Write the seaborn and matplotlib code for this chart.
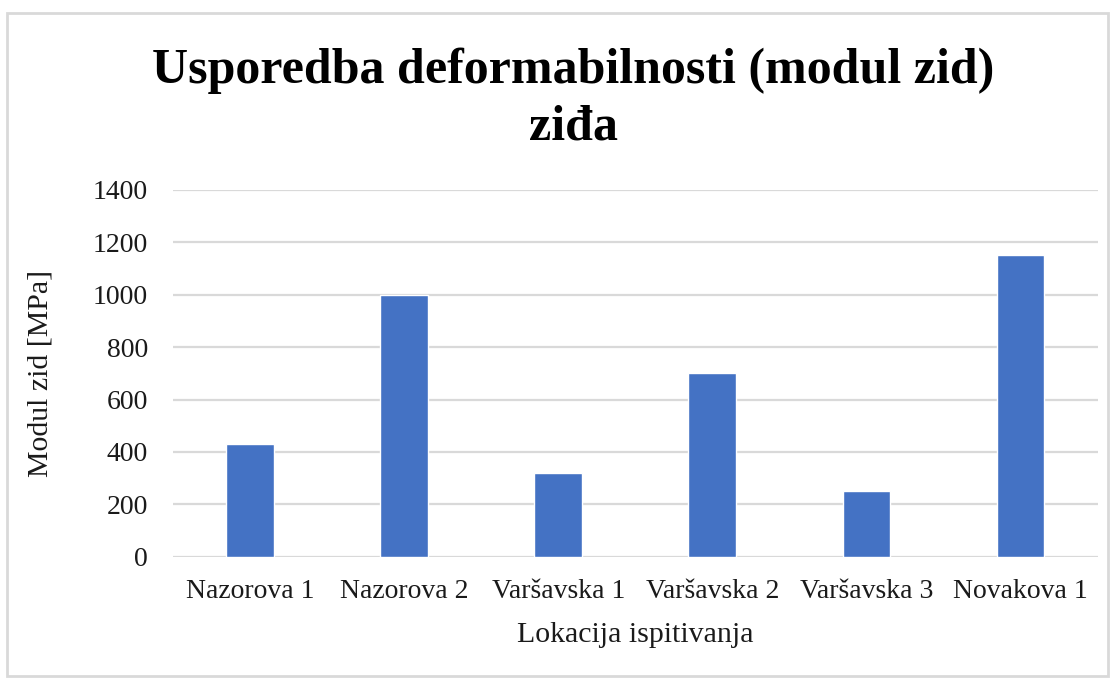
import matplotlib
matplotlib.use("Agg")
import matplotlib.pyplot as plt
import seaborn as sns
import pandas as pd
from matplotlib.patches import Rectangle

locations = ["Nazorova 1", "Nazorova 2", "Varšavska 1", "Varšavska 2", "Varšavska 3", "Novakova 1"]
modulus = [430, 1000, 320, 700, 250, 1152]
y_ticks = [0, 200, 400, 600, 800, 1000, 1200, 1400]

df = pd.DataFrame({"Lokacija": locations, "Modul": modulus})

sns.set_theme(style="white")
plt.rcParams["font.family"] = ["Liberation Serif", "DejaVu Serif"]

fig = plt.figure(figsize=(11.2, 6.81), dpi=100)
ax = fig.add_axes([0.1545, 0.1825, 0.8255, 0.5385])

sns.barplot(data=df, x="Lokacija", y="Modul", color="#4472C4", width=0.31,
            saturation=1, ax=ax, zorder=3)

ax.set_ylim(0, 1400)
ax.set_yticks(y_ticks)
ax.set_xlim(-0.5, len(locations) - 0.5)
ax.yaxis.grid(True, color="#D9D9D9", linewidth=1.6, zorder=0)
ax.xaxis.grid(False)
for s in ax.spines.values():
    s.set_visible(False)
ax.tick_params(axis="both", length=0, labelsize=20, colors="#1a1a1a")
ax.tick_params(axis="y", pad=18)
ax.tick_params(axis="x", pad=16)

ax.set_xlabel("Lokacija ispitivanja", fontsize=21.5, color="#1a1a1a", labelpad=13)
ax.set_ylabel("Modul zid [MPa]", fontsize=21.5, color="#1a1a1a", labelpad=28)

fig.text(0.512, 0.855, "Usporedba deformabilnosti (modul zid)\nziđa", ha="center", va="center",
         fontsize=36, fontweight="bold", color="black", linespacing=1.3)

fig.patches.append(Rectangle((0.0065, 0.007), 0.983, 0.974, transform=fig.transFigure,
                             fill=False, edgecolor="#D9D9D9", linewidth=2))

fig.savefig("out.png", dpi=100, facecolor="white")
